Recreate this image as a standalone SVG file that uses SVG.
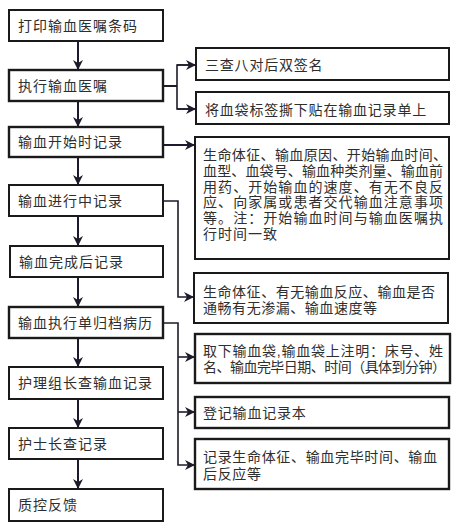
<svg xmlns="http://www.w3.org/2000/svg" width="456" height="529" viewBox="0 0 456 529">
<style>
.box{fill:#fff;stroke:#1a1a1a;stroke-width:2}
.thick{stroke-width:2.4}
.t{font-family:"Liberation Sans","Noto Sans CJK SC","Noto Sans CJK JP",sans-serif;font-size:14px;fill:#2e2e2e}
.l{letter-spacing:1px}
.r{letter-spacing:0.8px}
.c{fill:none;stroke:#1f1a2b;stroke-width:2}
.b{fill:none;stroke:#1f1a2b;stroke-width:1.6}
</style>
<defs>
<marker id="ah" markerUnits="userSpaceOnUse" markerWidth="12" markerHeight="10" refX="10" refY="5" orient="auto">
<path d="M0,0 L10,5 L0,10 L3,5 Z" fill="#1f1a2b"/>
</marker>
</defs>
<rect width="456" height="529" fill="#fff"/>
<g id="connectors">
<line class="c" x1="78" y1="41" x2="78" y2="70" marker-end="url(#ah)"/>
<line class="c" x1="78" y1="101" x2="78" y2="127" marker-end="url(#ah)"/>
<line class="c" x1="78" y1="157" x2="78" y2="185" marker-end="url(#ah)"/>
<line class="c" x1="78" y1="216" x2="78" y2="246" marker-end="url(#ah)"/>
<line class="c" x1="78" y1="277" x2="78" y2="307" marker-end="url(#ah)"/>
<line class="c" x1="78" y1="338" x2="78" y2="367" marker-end="url(#ah)"/>
<line class="c" x1="78" y1="399" x2="78" y2="428" marker-end="url(#ah)"/>
<line class="c" x1="78" y1="459" x2="78" y2="489" marker-end="url(#ah)"/>
<line class="c" x1="163" y1="86" x2="177" y2="86"/>
<path class="b" d="M196,65 H177 V109 H196"/>
<line class="b" x1="177" y1="65" x2="196" y2="65" marker-end="url(#ah)"/>
<line class="b" x1="177" y1="109" x2="196" y2="109" marker-end="url(#ah)"/>
<line class="c" x1="163" y1="145" x2="195" y2="145" marker-end="url(#ah)"/>
<path class="b" d="M163,201 H178 V297 H194" marker-end="url(#ah)"/>
<path class="b" d="M163,323 H178 V465 H195" marker-end="url(#ah)"/>
<line class="b" x1="178" y1="357" x2="195" y2="357" marker-end="url(#ah)"/>
<line class="b" x1="178" y1="412" x2="195" y2="412" marker-end="url(#ah)"/>
</g>
<g id="n1"><rect class="box" x="9" y="10" width="154" height="31"/><text class="t l" x="18" y="31">打印输血医嘱条码</text></g>
<g id="n2"><rect class="box thick" x="9" y="70" width="154" height="31"/><text class="t l" x="18" y="91">执行输血医嘱</text></g>
<g id="n3"><rect class="box thick" x="9" y="127" width="154" height="30"/><text class="t l" x="18" y="147">输血开始时记录</text></g>
<g id="n4"><rect class="box" x="9" y="185" width="154" height="31"/><text class="t l" x="18" y="206">输血进行中记录</text></g>
<g id="n5"><rect class="box" x="10" y="246" width="153" height="31"/><text class="t l" x="19" y="267">输血完成后记录</text></g>
<g id="n6"><rect class="box thick" x="9" y="307" width="154" height="31"/><text class="t l" x="18" y="328">输血执行单归档病历</text></g>
<g id="n7"><rect class="box" x="9" y="367" width="154" height="32"/><text class="t l" x="18" y="388">护理组长查输血记录</text></g>
<g id="n8"><rect class="box" x="9" y="428" width="154" height="31"/><text class="t l" x="18" y="449">护士长查记录</text></g>
<g id="n9"><rect class="box" x="9" y="489" width="154" height="32"/><text class="t l" x="18" y="510">质控反馈</text></g>
<g id="nA"><rect class="box" x="196" y="48" width="253" height="32"/><text class="t r" x="205" y="70">三查八对后双签名</text></g>
<g id="nB"><rect class="box" x="196" y="92" width="253" height="32"/><text class="t r" x="205" y="115">将血袋标签撕下贴在输血记录单上</text></g>
<g id="nC"><rect class="box" x="195" y="137" width="254" height="122"/>
<text class="t"><tspan x="203" y="160" textLength="244" lengthAdjust="spacing">生命体征、输血原因、开始输血时间、</tspan><tspan x="203" y="175.8" textLength="240" lengthAdjust="spacing">血型、血袋号、输血种类剂量、输血前</tspan><tspan x="203" y="191.6" textLength="240" lengthAdjust="spacing">用药、开始输血的速度、有无不良反</tspan><tspan x="203" y="207.4" textLength="240" lengthAdjust="spacing">应、向家属或患者交代输血注意事项</tspan><tspan x="203" y="223.2" textLength="240" lengthAdjust="spacing">等。注：开始输血时间与输血医嘱执</tspan><tspan x="203" y="239" textLength="74" lengthAdjust="spacing">行时间一致</tspan></text>
</g>
<g id="nD"><rect class="box" x="194" y="273" width="254" height="50"/>
<text class="t"><tspan x="203" y="297" textLength="232" lengthAdjust="spacing">生命体征、有无输血反应、输血是否</tspan><tspan x="203" y="313" textLength="174" lengthAdjust="spacing">通畅有无渗漏、输血速度等</tspan></text>
</g>
<g id="nE"><rect class="box thick" x="195" y="334" width="255" height="49"/>
<text class="t"><tspan x="203" y="356" textLength="240" lengthAdjust="spacing">取下输血袋,输血袋上注明：床号、姓</tspan><tspan x="203" y="372" textLength="243" lengthAdjust="spacing">名、输血完毕日期、时间（具体到分钟）</tspan></text>
</g>
<g id="nF"><rect class="box thick" x="195" y="397" width="254" height="31"/><text class="t r" x="203" y="418">登记输血记录本</text></g>
<g id="nG"><rect class="box thick" x="195" y="439" width="254" height="50"/>
<text class="t"><tspan x="203" y="462" textLength="234" lengthAdjust="spacing">记录生命体征、输血完毕时间、输血</tspan><tspan x="203" y="479" textLength="58" lengthAdjust="spacing">后反应等</tspan></text>
</g>
</svg>
